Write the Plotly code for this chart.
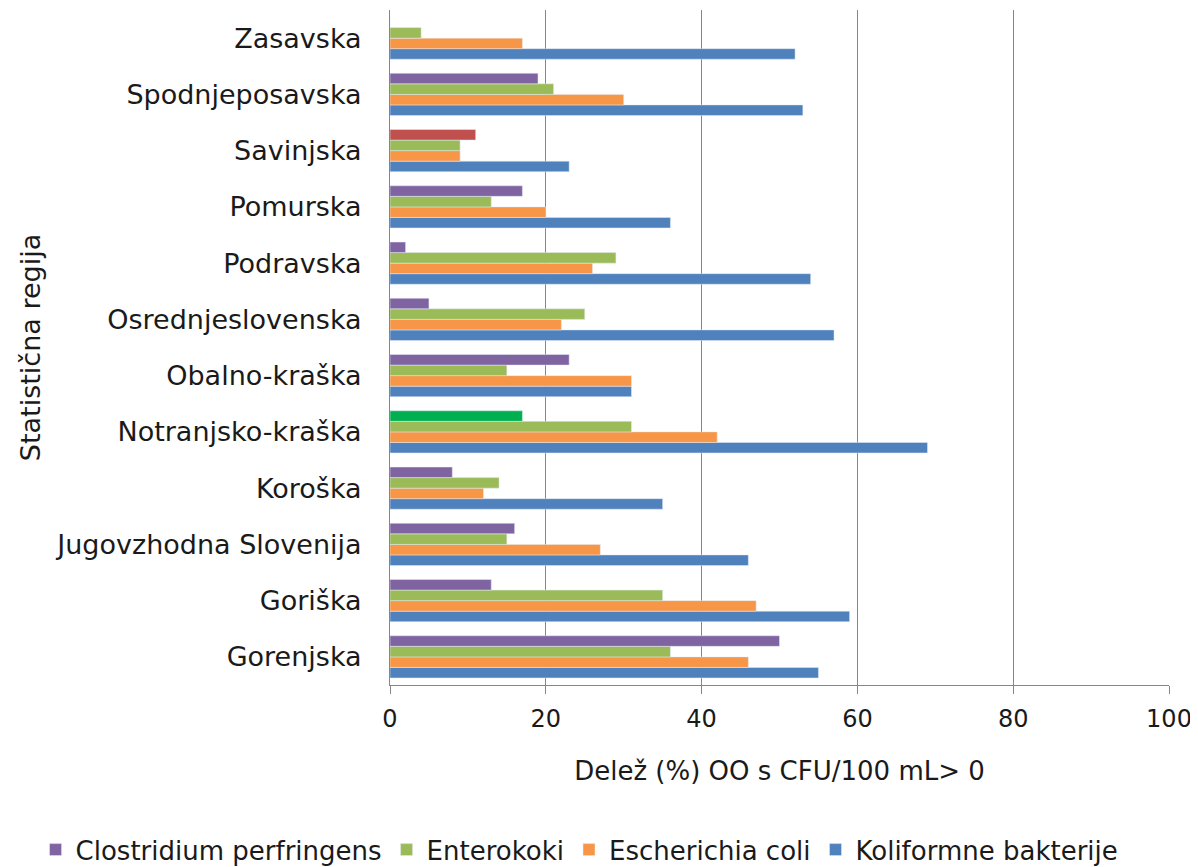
import plotly.graph_objects as go

regions = ["Gorenjska", "Goriška", "Jugovzhodna Slovenija", "Koroška", "Notranjsko-kraška",
           "Obalno-kraška", "Osrednjeslovenska", "Podravska", "Pomurska", "Savinjska",
           "Spodnjeposavska", "Zasavska"]
clostridium = [50, 13, 16, 8, 17, 23, 5, 2, 17, 11, 19, 0]
enterokoki = [36, 35, 15, 14, 31, 15, 25, 29, 13, 9, 21, 4]
ecoli = [46, 47, 27, 12, 42, 31, 22, 26, 20, 9, 30, 17]
koliformne = [55, 59, 46, 35, 69, 31, 57, 54, 36, 23, 53, 52]
x_ticks = [0, 20, 40, 60, 80, 100]

c_purple = "#8064a2"
c_green = "#9bbb59"
c_orange = "#f79646"
c_blue = "#4f81bd"
clost_colors = [c_purple] * len(regions)
clost_colors[regions.index("Savinjska")] = "#c0504d"
clost_colors[regions.index("Notranjsko-kraška")] = "#00b050"

font = "DejaVu Sans, Open Sans, sans-serif"

fig = go.Figure()
fig.add_trace(go.Bar(name="Koliformne bakterije", y=regions, x=koliformne, orientation="h",
                     marker=dict(color=c_blue)))
fig.add_trace(go.Bar(name="Escherichia coli", y=regions, x=ecoli, orientation="h",
                     marker=dict(color=c_orange)))
fig.add_trace(go.Bar(name="Enterokoki", y=regions, x=enterokoki, orientation="h",
                     marker=dict(color=c_green)))
fig.add_trace(go.Bar(name="Clostridium perfringens", y=regions, x=clostridium, orientation="h",
                     marker=dict(color=clost_colors)))

fig.update_layout(
    width=1198, height=867,
    barmode="group", bargap=0.25, bargroupgap=0,
    plot_bgcolor="white", paper_bgcolor="white",
    margin=dict(l=382, r=37, t=2, b=190),
    font=dict(family=font, size=24, color="#1a1a1a"),
    showlegend=True,
    legend=dict(orientation="h", traceorder="reversed", xref="paper", x=-0.455,
                xanchor="left", yref="paper", y=-0.244, yanchor="middle",
                font=dict(size=26), itemwidth=30, tracegroupgap=0),
    xaxis=dict(range=[0, 100], tickvals=x_ticks, showgrid=True, gridcolor="#868686",
               gridwidth=1, showline=True, linecolor="#868686", ticks="outside",
               ticklen=8, tickcolor="#868686", zeroline=False, ticklabelstandoff=4,
               tickfont=dict(size=24),
               title=dict(text="Delež (%) OO s CFU/100 mL> 0", standoff=30,
                          font=dict(size=26))),
    yaxis=dict(showline=True, linecolor="#868686", showgrid=False, ticks="",
               ticklabelstandoff=22, tickfont=dict(size=27),
               title=dict(text="Statistična regija", standoff=6, font=dict(size=27))),
)

fig.write_html("out.html")
